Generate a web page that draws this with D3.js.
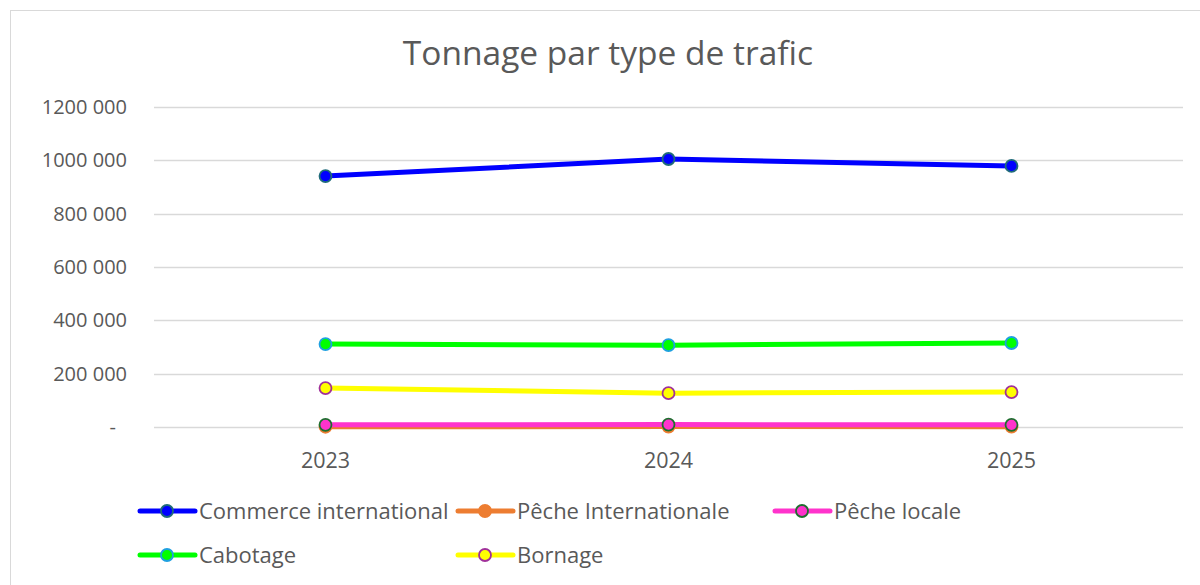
<!DOCTYPE html>
<html lang="fr">
<head>
<meta charset="UTF-8">
<title>Tonnage par type de trafic</title>
<script src="https://cdn.jsdelivr.net/npm/d3@7"></script>
<style>
  body { margin: 0; background: #fff; }
  text { font-family: "Open Sans", sans-serif; fill: #595959; }
</style>
</head>
<body>
<svg id="mainsvg" width="1200" height="585"></svg>
<script>
const years = ["2023", "2024", "2025"];
const seriesNames = ["Commerce international", "Pêche Internationale", "Pêche locale", "Cabotage", "Bornage"];
const commerceInternational = [941000, 1005000, 979000];
const pecheInternationale = [1000, 1500, 1200];
const pecheLocale = [8000, 9000, 8000];
const cabotage = [311000, 307000, 315000];
const bornage = [146000, 127000, 131000];
const yTicks = [0, 200000, 400000, 600000, 800000, 1000000, 1200000];

const lineColors = ["#0000ff", "#ed7d31", "#ff33cc", "#00ff00", "#ffff00"];
const markerFill = ["#0000ff", "#ed7d31", "#ff33cc", "#00ff00", "#ffff00"];
const markerStroke = ["#1f6b7a", "#ed7d31", "#1e6e2e", "#1ea0e0", "#a0309a"];
const values = [commerceInternational, pecheInternationale, pecheLocale, cabotage, bornage];

const svg = d3.select('#mainsvg');
const width = +svg.attr('width');
const height = +svg.attr('height');
const margin = { top: 107, right: 17, bottom: 158, left: 154 };

// chart frame
svg.append('rect').attr('x', 10.5).attr('y', 10.5).attr('width', 1200).attr('height', 600)
    .attr('fill', 'none').attr('stroke', '#d9d9d9');

svg.append('text').attr('x', 608).attr('y', 65).attr('text-anchor', 'middle')
    .attr('font-size', '33.5px').text('Tonnage par type de trafic');

const xScale = d3.scaleBand().domain(years).range([margin.left, width - margin.right]);
const yScale = d3.scaleLinear().domain([0, 1200000]).range([height - margin.bottom, margin.top]);
const fmt = d => d === 0 ? '-' : d3.format(',')(d).replace(/,/g, '\u2009').replace(/^(\d)\u2009(\d{3})\u2009/, '$1$2 ').replace(/\u2009/g, ' ');

const yAxis = d3.axisLeft(yScale).tickValues(yTicks).tickSize(0).tickPadding(0).tickFormat(fmt);
svg.append('g').attr('transform', `translate(127, 0)`).call(yAxis)
    .call(g => g.select('.domain').remove())
    .call(g => g.selectAll('text').attr('font-size', '20px').attr('fill', '#595959')
        .attr('font-family', '"Open Sans", sans-serif').attr('dx', d => d === 0 ? -11 : 0));

svg.append('g').selectAll('line').data(yTicks).join('line')
    .attr('x1', margin.left).attr('x2', width - margin.right)
    .attr('y1', d => Math.round(yScale(d)) + 0.5).attr('y2', d => Math.round(yScale(d)) + 0.5)
    .attr('stroke', '#d9d9d9').attr('stroke-width', 1.5);

const xAxis = d3.axisBottom(xScale).tickSize(0).tickPadding(0);
svg.append('g').attr('transform', `translate(0, ${height - margin.bottom + 41})`).call(xAxis)
    .call(g => g.select('.domain').remove())
    .call(g => g.selectAll('text').attr('font-size', '21.5px').attr('fill', '#595959')
        .attr('font-family', '"Open Sans", sans-serif').attr('dy', 0));

const line = d3.line()
    .x((d, i) => xScale(years[i]) + xScale.bandwidth() / 2)
    .y(d => yScale(d));

const series = seriesNames.map((name, k) => ({ name, k, vals: values[k] }));
const drawOrder = [1, 2, 4, 3, 0];

drawOrder.forEach(k => {
    const s = series[k];
    const g = svg.append('g');
    g.append('path').attr('d', line(s.vals)).attr('fill', 'none')
        .attr('stroke', lineColors[k]).attr('stroke-width', 5).attr('stroke-linejoin', 'round');
    g.selectAll('circle').data(s.vals).join('circle')
        .attr('cx', (d, i) => xScale(years[i]) + xScale.bandwidth() / 2)
        .attr('cy', d => yScale(d)).attr('r', 6)
        .attr('fill', markerFill[k]).attr('stroke', markerStroke[k]).attr('stroke-width', 1.8);
});

// legend
const legendPos = [[140, 511], [458, 511], [775, 511], [140, 555], [458, 555]];
const lg = svg.append('g');
series.forEach(s => {
    const [x, y] = legendPos[s.k];
    lg.append('line').attr('x1', x).attr('x2', x + 55).attr('y1', y).attr('y2', y)
        .attr('stroke', lineColors[s.k]).attr('stroke-width', 5).attr('stroke-linecap', 'round');
    lg.append('circle').attr('cx', x + 27).attr('cy', y).attr('r', 6)
        .attr('fill', markerFill[s.k]).attr('stroke', markerStroke[s.k]).attr('stroke-width', 1.8);
    lg.append('text').attr('x', x + 59).attr('y', y + 8).attr('font-size', '22px').text(s.name);
});
</script>
</body>
</html>
